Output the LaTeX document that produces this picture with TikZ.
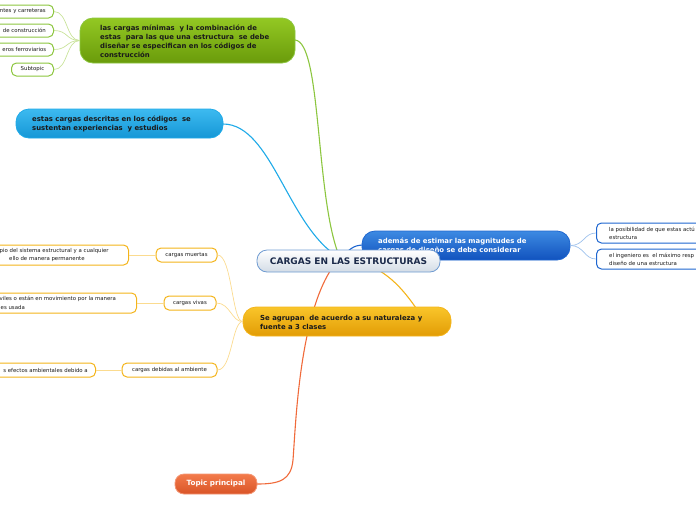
\documentclass[tikz,border=0pt]{standalone}
\usepackage{fontspec}
\setmainfont{DejaVu Sans}
\definecolor{gTop}{HTML}{93C823}
\definecolor{gBot}{HTML}{6A9B0B}
\definecolor{gLine}{HTML}{8CC63F}
\definecolor{gLeaf}{HTML}{C9E39A}
\definecolor{lbTop}{HTML}{3DBAF0}
\definecolor{lbBot}{HTML}{1597D6}
\definecolor{lbLine}{HTML}{1FAAE8}
\definecolor{dbTop}{HTML}{3D8AE2}
\definecolor{dbBot}{HTML}{1152BE}
\definecolor{dbLine}{HTML}{1E66D0}
\definecolor{dbLeaf}{HTML}{9CC0EC}
\definecolor{oTop}{HTML}{F9C52A}
\definecolor{oBot}{HTML}{E29C05}
\definecolor{oLine}{HTML}{F4B41A}
\definecolor{oLeaf}{HTML}{FBDB8F}
\definecolor{cBot}{HTML}{D3DCE6}
\definecolor{cLine}{HTML}{6F9BD1}
\definecolor{cText}{HTML}{1B2A4A}
\definecolor{rTop}{HTML}{F37B4B}
\definecolor{rBot}{HTML}{D95427}
\definecolor{rLine}{HTML}{F06A3A}
\definecolor{txt}{HTML}{1A1A1A}
\tikzset{
  pill/.style={rounded corners=#1, inner sep=0pt},
  mainbox/.style={pill=13pt, draw, line width=0.8pt},
  leafbox/.style={rounded corners=5pt, draw, line width=1pt, fill=white, inner sep=0pt},
  maintext/.style={font=\fontsize{6.9}{9}\selectfont\bfseries, text=txt, align=left, inner sep=0pt},
  leaftext/.style={font=\fontsize{5.4}{8}\selectfont, text=txt, align=left, inner sep=0pt},
  conn/.style={line width=1.1pt},
  subconn/.style={line width=0.7pt},
}
\begin{document}
\begin{tikzpicture}[x=1pt,y=-1pt]
\useasboundingbox (0,0) rectangle (696,520);
\clip (0,0) rectangle (696,520);
% ---------- main connectors ----------
\coordinate (cc) at (340,258);
\draw[conn, gLine] (295,40) .. controls (322,42) and (315,200) .. (cc);
\draw[conn, lbLine] (223,124) .. controls (272,124) and (288,228) .. (cc);
\draw[conn, dbLine] (cc) .. controls (350,250) and (352,245) .. (364,245);
\draw[conn, oLine] (cc) .. controls (380,262) and (400,285) .. (416,308);
\draw[conn, rLine] (cc) .. controls (300,300) and (296,420) .. (293,460) .. controls (291,480) and (280,484) .. (257,484);
% ---------- green branch ----------
\node[mainbox, draw=gLine, top color=gTop, bottom color=gBot, minimum width=215pt, minimum height=45pt] (g) at (187.5,40.5) {};
\node[maintext, anchor=west] (gt) at (100,41) {las cargas mínimas\ \ y la combinación de\\estas\ \ para las que una estructura\ \ se debe\\diseñar se especifican en los códigos de\\construcción};
\node[leafbox, draw=gLine, minimum width=70pt, minimum height=13pt, anchor=east] (g1) at (54,11.5) {};
\node[leafbox, draw=gLine, minimum width=70pt, minimum height=13pt, anchor=east] (g2) at (54,30.5) {};
\node[leafbox, draw=gLine, minimum width=70pt, minimum height=13pt, anchor=east] (g3) at (54,49.5) {};
\node[leafbox, draw=gLine, minimum width=42pt, minimum height=13pt, anchor=east] (g4) at (54,69.5) {};
\node[leaftext, anchor=east] (g1t) at (46,11.5) {ntes y carreteras};
\node[leaftext, anchor=east] (g2t) at (46,30.5) {de construcción};
\node[leaftext, anchor=east] (g3t) at (46.5,49.5) {eros ferroviarios};
\node[leaftext] (g4t) at (g4) {Subtopic};
\foreach \n in {g1,g2,g3,g4}{
  \draw[subconn, gLeaf] (g.west) .. controls (66,40.5) and (68,0|-\n.east) .. (\n.east);
}
% ---------- light blue ----------
\node[mainbox, draw=lbLine, top color=lbTop, bottom color=lbBot, minimum width=207pt, minimum height=29pt] (lb) at (119.5,123.5) {};
\node[maintext, anchor=west] (lbt) at (32,123.5) {estas cargas descritas en los códigos\ \ se\\sustentan experiencias\ \ y estudios};
% ---------- dark blue ----------
\node[mainbox, draw=dbLine, top color=dbTop, bottom color=dbBot, minimum width=208pt, minimum height=29pt] (db) at (466,245.5) {};
\node[maintext, anchor=west, text=white] (dbt) at (378,246) {además de estimar las magnitudes de\\cargas de diseño se debe considerar};
\node[leafbox, draw=dbLine, minimum width=120pt, minimum height=20pt, anchor=west] (d1) at (596,233) {};
\node[leafbox, draw=dbLine, minimum width=120pt, minimum height=20pt, anchor=west] (d2) at (596,259) {};
\node[leaftext, anchor=west] (d1t) at (609,233.5) {la posibilidad de que estas actú\\estructura};
\node[leaftext, anchor=west] (d2t) at (609,259.5) {el ingeniero es\ \ el máximo resp\\diseño de una estructura};
\draw[subconn, dbLeaf] (db.east) .. controls (584,245.5) and (584,233) .. (d1.west);
\draw[subconn, dbLeaf] (db.east) .. controls (584,245.5) and (584,259) .. (d2.west);
% ---------- orange ----------
\node[mainbox, draw=oLine, top color=oTop, bottom color=oBot, minimum width=208pt, minimum height=29pt] (o) at (347,321.5) {};
\node[maintext, anchor=west] (ot) at (260,322) {Se agrupan\ \ de acuerdo a su naturaleza y\\fuente a 3 clases};
\node[leafbox, draw=oLine, minimum width=61pt, minimum height=14pt] (o1) at (186.5,255) {};
\node[leaftext] (o1t) at (o1) {cargas muertas};
\node[leafbox, draw=oLine, minimum width=52pt, minimum height=14pt] (o2) at (190,303) {};
\node[leaftext] (o2t) at (o2) {cargas vivas};
\node[leafbox, draw=oLine, minimum width=95pt, minimum height=14pt] (o3) at (169.5,370) {};
\node[leaftext] (o3t) at (o3) {cargas debidas al ambiente};
\draw[subconn, oLeaf] (o.west) .. controls (232,322) and (232,255) .. (o1.east);
\draw[subconn, oLeaf] (o.west) .. controls (232,322) and (230,303) .. (o2.east);
\draw[subconn, oLeaf] (o.west) .. controls (232,322) and (232,370) .. (o3.east);
\node[leafbox, draw=oLine, minimum width=145pt, minimum height=20pt, anchor=east] (f1) at (129,255) {};
\node[leafbox, draw=oLine, minimum width=150pt, minimum height=20pt, anchor=east] (f2) at (137,303) {};
\node[leafbox, draw=oLine, minimum width=110pt, minimum height=14pt, anchor=east] (f3) at (96,370) {};
\node[leaftext, anchor=west] (f1a) at (-0.5,251) {pio del sistema estructural y a cualquier};
\node[leaftext, anchor=west] (f1b) at (9,259) {ello de manera permanente};
\node[leaftext, anchor=west] (f2a) at (-0.5,299) {viles o están en movimiento por la manera};
\node[leaftext, anchor=west] (f2b) at (0.5,307) {es usada};
\node[leaftext, anchor=east] (f3t) at (88,370) {s efectos ambientales debido a};
\draw[subconn, oLeaf] (o1.west) -- (f1.east);
\draw[subconn, oLeaf] (o2.west) -- (f2.east);
\draw[subconn, oLeaf] (o3.west) -- (f3.east);
% ---------- topic principal ----------
\node[mainbox, pill=9pt, draw=rLine!70!white, top color=rTop, bottom color=rBot, minimum width=82pt, minimum height=20pt] (r) at (216,484) {};
\node[maintext, font=\fontsize{7.2}{9}\selectfont\bfseries, text=white] (rt) at (r) {Topic principal};
% ---------- central ----------
\node[mainbox, pill=10pt, draw=cLine, top color=white, bottom color=cBot, minimum width=183pt, minimum height=22pt] (c) at (348.5,261) {};
\node[font=\fontsize{9}{10}\selectfont\bfseries, text=cText, inner sep=0pt] (ct) at (c) {CARGAS EN LAS ESTRUCTURAS};
\end{tikzpicture}
\end{document}
